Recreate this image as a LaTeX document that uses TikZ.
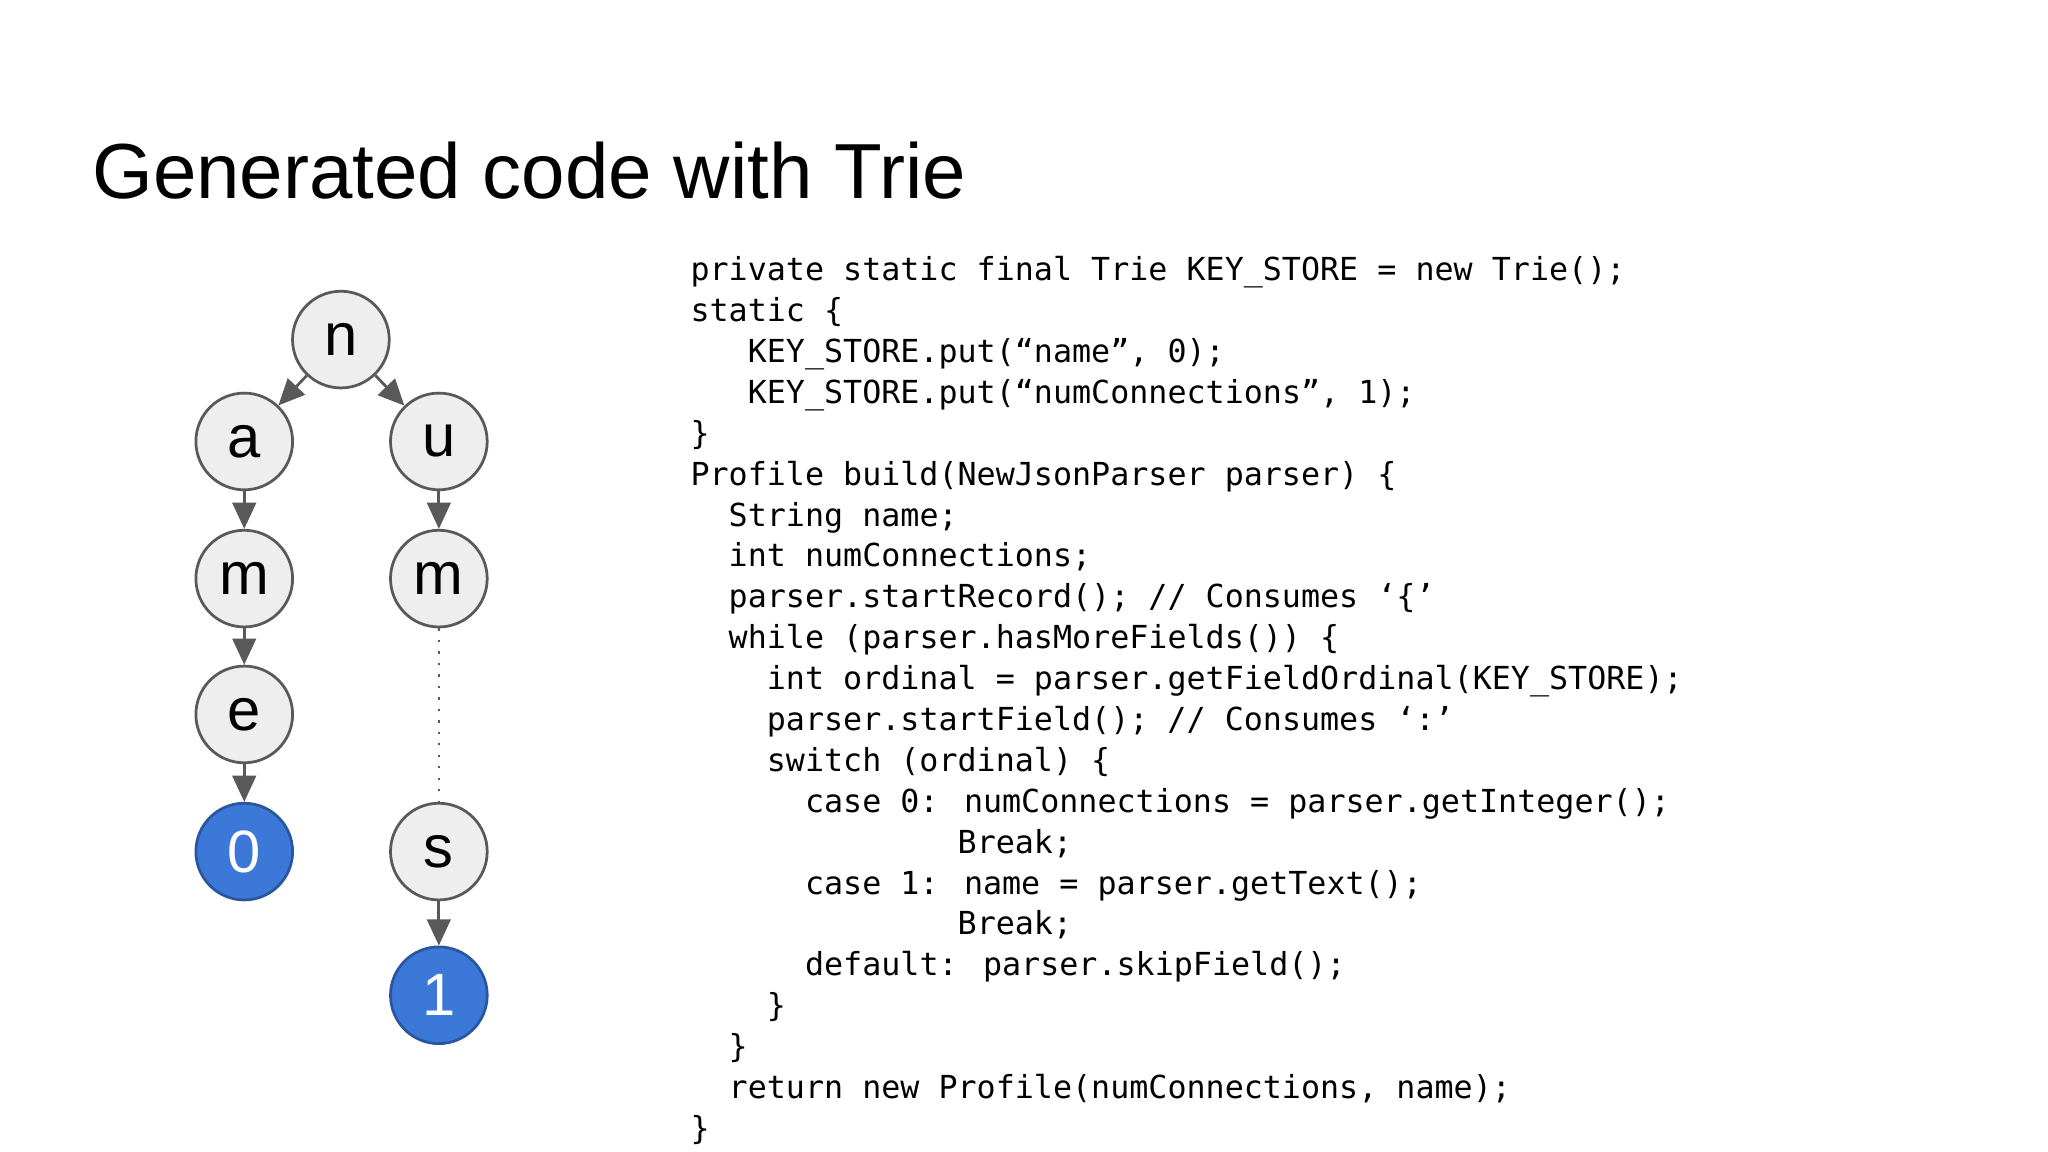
\documentclass[tikz,border=0pt]{standalone}
\usepackage{fontspec}
\setmainfont{Liberation Sans}
\newfontfamily\codefont{DejaVu Sans Mono}
\usetikzlibrary{arrows.meta}
\definecolor{nodegray}{HTML}{EEEEEE}
\definecolor{edgegray}{HTML}{595959}
\definecolor{blu}{HTML}{3C78D8}
\definecolor{bluedge}{HTML}{2A56A0}
\newcommand\ind[1]{\phantom{#1}}
\begin{document}
\begin{tikzpicture}[x=0.01cm,y=-0.01cm,
  trie/.style={circle,draw=edgegray,fill=nodegray,minimum size=0.74cm,inner sep=0pt,font=\fontsize{13}{15}\selectfont,line width=0.6pt},
  leaf/.style={trie,fill=blu,draw=bluedge,text=white},
  arr/.style={-{Triangle[length=0.2cm,width=0.18cm]},draw=edgegray,fill=edgegray,line width=0.6pt},
  code/.style={anchor=base west,inner sep=0pt,font=\codefont\fontsize{6.9}{9}\selectfont}]
\useasboundingbox[fill=white] (0,0) rectangle (1568,882);
\node[anchor=base west,inner sep=0pt,font=\fontsize{17}{20}\selectfont] (title) at (70,152) {Generated code with Trie};
\node[trie] (n) at (261,260) {n};
\node[trie] (a) at (187,338) {a};
\node[trie] (u) at (336,338) {u};
\node[trie] (m1) at (187,443) {m};
\node[trie] (m2) at (336,443) {m};
\node[trie] (e) at (187,547) {e};
\node[leaf] (z) at (187,652) {0};
\node[trie] (s) at (336,652) {s};
\node[leaf] (o) at (336,762) {1};
\draw[arr] (n) -- (a);
\draw[arr] (n) -- (u);
\draw[arr] (a) -- (m1);
\draw[arr] (m1) -- (e);
\draw[arr] (e) -- (z);
\draw[arr] (u) -- (m2);
\draw[arr] (s) -- (o);
\draw[edgegray,dotted,line width=0.5pt] (m2) -- (s);
\foreach \i/\t in {
0/{private static final Trie KEY\_STORE = new Trie();},
1/{static \{},
2/{\ind{xxx}KEY\_STORE.put(“name”, 0);},
3/{\ind{xxx}KEY\_STORE.put(“numConnections”, 1);},
4/{\}},
5/{Profile build(NewJsonParser parser) \{},
6/{\ind{xx}String name;},
7/{\ind{xx}int numConnections;},
8/{\ind{xx}parser.startRecord(); // Consumes ‘\{’},
9/{\ind{xx}while (parser.hasMoreFields()) \{},
10/{\ind{xxxx}int ordinal = parser.getFieldOrdinal(KEY\_STORE);},
11/{\ind{xxxx}parser.startField(); // Consumes ‘:’},
12/{\ind{xxxx}switch (ordinal) \{},
13/{\ind{xxxxxx}case 0: numConnections = parser.getInteger();},
14/{\ind{xxxxxxxxxxxxxx}Break;},
15/{\ind{xxxxxx}case 1: name = parser.getText();},
16/{\ind{xxxxxxxxxxxxxx}Break;},
17/{\ind{xxxxxx}default: parser.skipField();},
18/{\ind{xxxx}\}},
19/{\ind{xx}\}},
20/{\ind{xx}return new Profile(numConnections, name);},
21/{\}}}
  \node[code] (c\i) at (528,{215+31.3*\i}) {\t};
\end{tikzpicture}
\end{document}
